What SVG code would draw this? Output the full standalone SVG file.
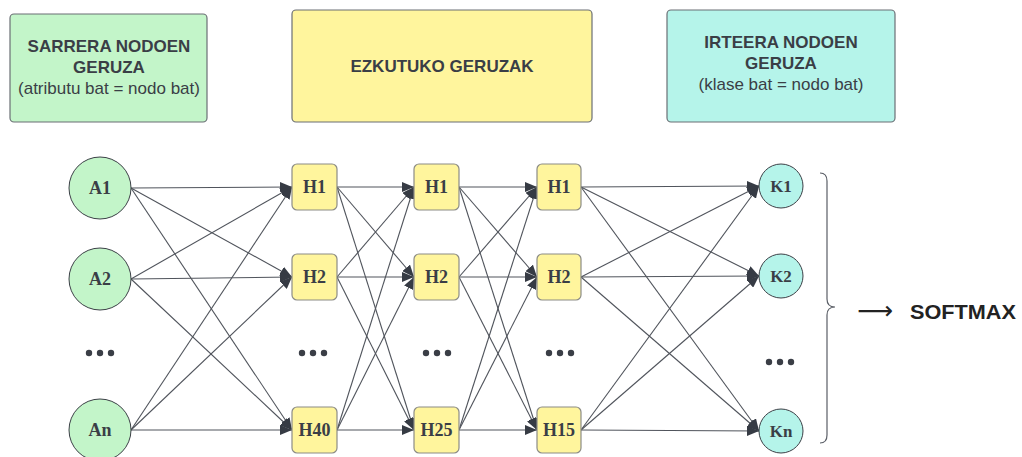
<svg xmlns="http://www.w3.org/2000/svg" width="1022" height="457" viewBox="0 0 1022 457">
  <defs>
    <marker id="arrow" markerUnits="userSpaceOnUse" markerWidth="12" markerHeight="10" refX="12" refY="5" orient="auto">
      <path d="M0,0 L12,5 L0,10 z" fill="#363b44"/>
    </marker>
    <style>
      .hdr { stroke: #6b6f75; stroke-width: 1.2; }
      .hdr-t { font-family: "Liberation Sans", Arial, sans-serif; font-size: 17px; fill: #3a3e46; text-anchor: middle; }
      .b { font-weight: bold; }
      .in { fill: #c3f5c9; stroke: #3c4047; stroke-width: 1; }
      .out { fill: #b5f4ea; stroke: #3c4047; stroke-width: 1; }
      .hid { fill: #fff59d; stroke: #8c8c86; stroke-width: 1.2; }
      .lbl { font-family: "Liberation Serif", "Times New Roman", serif; font-weight: bold; font-size: 18px; fill: #3a3e46; text-anchor: middle; }
      .dot { fill: #3a3e46; }
      .edge { stroke: #50545c; stroke-width: 1.1; fill: none; marker-end: url(#arrow); }
    </style>
  </defs>
  <rect width="1022" height="457" fill="#ffffff"/>

  <!-- layer headers -->
  <g id="header-input">
    <rect class="hdr" x="10" y="14" width="197" height="108" rx="4" fill="#c3f5c9"/>
    <text class="hdr-t b" x="109" y="52">SARRERA NODOEN</text>
    <text class="hdr-t b" x="109" y="73">GERUZA</text>
    <text class="hdr-t" x="109" y="94">(atributu bat = nodo bat)</text>
  </g>
  <g id="header-hidden">
    <rect class="hdr" x="292" y="10" width="300" height="112" rx="4" fill="#fff59d"/>
    <text class="hdr-t b" x="442" y="72">EZKUTUKO GERUZAK</text>
  </g>
  <g id="header-output">
    <rect class="hdr" x="667" y="10" width="228" height="112" rx="4" fill="#b5f4ea"/>
    <text class="hdr-t b" x="781" y="48">IRTEERA NODOEN</text>
    <text class="hdr-t b" x="781" y="69">GERUZA</text>
    <text class="hdr-t" x="781" y="90">(klase bat = nodo bat)</text>
  </g>

  <!-- connections between layers -->
  <g id="connectors">
    <!-- inputs to hidden layer 1 -->
    <line class="edge" x1="131" y1="188" x2="292" y2="187"/>
    <line class="edge" x1="131" y1="188" x2="292" y2="277"/>
    <line class="edge" x1="131" y1="188" x2="292" y2="430"/>
    <line class="edge" x1="131" y1="279" x2="292" y2="187"/>
    <line class="edge" x1="131" y1="279" x2="292" y2="277"/>
    <line class="edge" x1="131" y1="279" x2="292" y2="430"/>
    <line class="edge" x1="131" y1="430" x2="292" y2="187"/>
    <line class="edge" x1="131" y1="430" x2="292" y2="277"/>
    <line class="edge" x1="131" y1="430" x2="292" y2="430"/>
    <!-- hidden layer 1 to hidden layer 2 -->
    <line class="edge" x1="337" y1="187" x2="414" y2="187"/>
    <line class="edge" x1="337" y1="187" x2="414" y2="277"/>
    <line class="edge" x1="337" y1="187" x2="414" y2="430"/>
    <line class="edge" x1="337" y1="277" x2="414" y2="187"/>
    <line class="edge" x1="337" y1="277" x2="414" y2="277"/>
    <line class="edge" x1="337" y1="277" x2="414" y2="430"/>
    <line class="edge" x1="337" y1="430" x2="414" y2="187"/>
    <line class="edge" x1="337" y1="430" x2="414" y2="277"/>
    <line class="edge" x1="337" y1="430" x2="414" y2="430"/>
    <!-- hidden layer 2 to hidden layer 3 -->
    <line class="edge" x1="459" y1="187" x2="537" y2="187"/>
    <line class="edge" x1="459" y1="187" x2="537" y2="277"/>
    <line class="edge" x1="459" y1="187" x2="537" y2="430"/>
    <line class="edge" x1="459" y1="277" x2="537" y2="187"/>
    <line class="edge" x1="459" y1="277" x2="537" y2="277"/>
    <line class="edge" x1="459" y1="277" x2="537" y2="430"/>
    <line class="edge" x1="459" y1="430" x2="537" y2="187"/>
    <line class="edge" x1="459" y1="430" x2="537" y2="277"/>
    <line class="edge" x1="459" y1="430" x2="537" y2="430"/>
    <!-- hidden layer 3 to outputs -->
    <line class="edge" x1="581" y1="187" x2="759" y2="186"/>
    <line class="edge" x1="581" y1="187" x2="759" y2="276"/>
    <line class="edge" x1="581" y1="187" x2="759" y2="431"/>
    <line class="edge" x1="581" y1="277" x2="759" y2="186"/>
    <line class="edge" x1="581" y1="277" x2="759" y2="276"/>
    <line class="edge" x1="581" y1="277" x2="759" y2="431"/>
    <line class="edge" x1="581" y1="430" x2="759" y2="186"/>
    <line class="edge" x1="581" y1="430" x2="759" y2="276"/>
    <line class="edge" x1="581" y1="430" x2="759" y2="431"/>
  </g>

  <!-- input nodes -->
  <g id="node-A1"><circle class="in" cx="100" cy="188" r="31"/><text class="lbl" x="100" y="194">A1</text></g>
  <g id="node-A2"><circle class="in" cx="100" cy="279" r="31"/><text class="lbl" x="100" y="285">A2</text></g>
  <g id="node-An"><circle class="in" cx="100" cy="430" r="31"/><text class="lbl" x="100" y="436">An</text></g>
  <g id="dots-input"><circle class="dot" cx="89" cy="353" r="3.2"/><circle class="dot" cx="100" cy="353" r="3.2"/><circle class="dot" cx="111" cy="353" r="3.2"/></g>

  <!-- hidden layer 1 -->
  <g id="node-L1-H1"><rect class="hid" x="292" y="164" width="45" height="46" rx="5"/><text class="lbl" x="314.5" y="193">H1</text></g>
  <g id="node-L1-H2"><rect class="hid" x="292" y="254" width="45" height="46" rx="5"/><text class="lbl" x="314.5" y="283">H2</text></g>
  <g id="node-L1-H40"><rect class="hid" x="292" y="407" width="45" height="46" rx="5"/><text class="lbl" x="314.5" y="436">H40</text></g>
  <g id="dots-L1"><circle class="dot" cx="302" cy="353" r="3.2"/><circle class="dot" cx="313" cy="353" r="3.2"/><circle class="dot" cx="324" cy="353" r="3.2"/></g>

  <!-- hidden layer 2 -->
  <g id="node-L2-H1"><rect class="hid" x="414" y="164" width="45" height="46" rx="5"/><text class="lbl" x="436.5" y="193">H1</text></g>
  <g id="node-L2-H2"><rect class="hid" x="414" y="254" width="45" height="46" rx="5"/><text class="lbl" x="436.5" y="283">H2</text></g>
  <g id="node-L2-H25"><rect class="hid" x="414" y="407" width="45" height="46" rx="5"/><text class="lbl" x="436.5" y="436">H25</text></g>
  <g id="dots-L2"><circle class="dot" cx="426" cy="353" r="3.2"/><circle class="dot" cx="437" cy="353" r="3.2"/><circle class="dot" cx="448" cy="353" r="3.2"/></g>

  <!-- hidden layer 3 -->
  <g id="node-L3-H1"><rect class="hid" x="537" y="164" width="44" height="46" rx="5"/><text class="lbl" x="559" y="193">H1</text></g>
  <g id="node-L3-H2"><rect class="hid" x="537" y="254" width="44" height="46" rx="5"/><text class="lbl" x="559" y="283">H2</text></g>
  <g id="node-L3-H15"><rect class="hid" x="537" y="407" width="44" height="46" rx="5"/><text class="lbl" x="559" y="436">H15</text></g>
  <g id="dots-L3"><circle class="dot" cx="549" cy="353" r="3.2"/><circle class="dot" cx="560" cy="353" r="3.2"/><circle class="dot" cx="571" cy="353" r="3.2"/></g>

  <!-- output nodes -->
  <g id="node-K1"><circle class="out" cx="781" cy="186" r="22"/><text class="lbl" x="781" y="192" style="font-size:17px">K1</text></g>
  <g id="node-K2"><circle class="out" cx="781" cy="276" r="22"/><text class="lbl" x="781" y="282" style="font-size:17px">K2</text></g>
  <g id="node-Kn"><circle class="out" cx="781" cy="431" r="22"/><text class="lbl" x="781" y="437" style="font-size:17px">Kn</text></g>
  <g id="dots-output"><circle class="dot" cx="769" cy="362" r="3.2"/><circle class="dot" cx="780" cy="362" r="3.2"/><circle class="dot" cx="791" cy="362" r="3.2"/></g>

  <!-- brace grouping the outputs, leading into softmax -->
  <g id="softmax">
    <path d="M820,173 Q827,173 827,181 L827,299 Q827,307 835,307 Q827,307 827,315 L827,435 Q827,443 820,443" fill="none" stroke="#5a5e66" stroke-width="1.2"/>
    <text x="875" y="319" font-family="DejaVu Sans, sans-serif" font-size="25" fill="#222222" text-anchor="middle">⟶</text>
    <text x="910" y="319" font-family="Liberation Sans, Arial, sans-serif" font-weight="bold" font-size="20" fill="#222222" textLength="106" lengthAdjust="spacingAndGlyphs">SOFTMAX</text>
  </g>
</svg>
